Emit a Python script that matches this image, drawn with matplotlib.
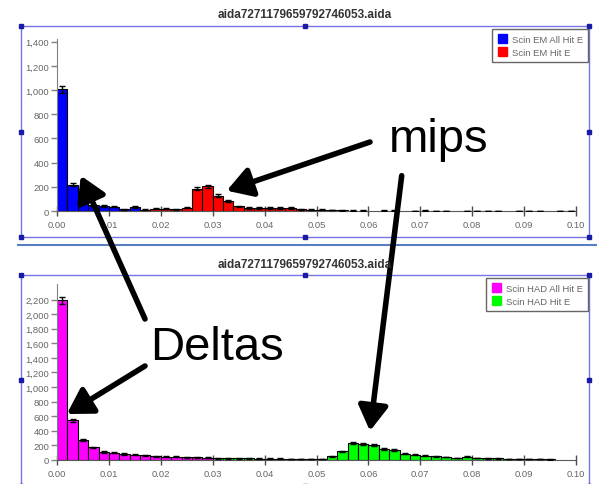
import numpy as np
import matplotlib.pyplot as plt
from matplotlib.patches import Rectangle, Patch
from matplotlib.lines import Line2D
from matplotlib.ticker import FuncFormatter, MultipleLocator, FixedLocator

plt.rcParams['font.family'] = ['Liberation Sans', 'DejaVu Sans']

W, H = 597, 485
TITLE = 'aida7271179659792746053.aida'

# 50 bins of width 0.002 between 0 and 0.1
edges = np.linspace(0.0, 0.1, 51)
centers = 0.5 * (edges[:-1] + edges[1:])

em_all_hit = [1005, 218, 106, 46, 40, 35, 15, 32, 0, 0,
              0, 0, 0, 0, 0, 0, 0, 0, 0, 0,
              0, 0, 0, 0, 0, 0, 0, 0, 0, 0,
              0, 0, 0, 0, 0, 0, 0, 0, 0, 0,
              0, 0, 0, 0, 0, 0, 0, 0, 0, 0]
em_hit = [0, 0, 0, 0, 0, 0, 0, 0, 12, 18,
          20, 15, 28, 186, 203, 127, 85, 38, 25, 25,
          25, 25, 25, 15, 12, 10, 8, 5, 3, 3,
          0, 3, 3, 0, 2, 4, 2, 2, 0, 2,
          2, 2, 2, 0, 2, 2, 2, 0, 2, 2]
had_all_hit = [2190, 540, 272, 168, 105, 95, 80, 68, 58, 50,
               42, 38, 35, 32, 30, 0, 0, 0, 0, 0,
               0, 0, 0, 0, 0, 0, 0, 0, 0, 0,
               0, 0, 0, 0, 0, 0, 0, 0, 0, 0,
               0, 0, 0, 0, 0, 0, 0, 0, 0, 0]
had_hit = [0, 0, 0, 0, 0, 0, 0, 0, 0, 0,
           0, 0, 0, 0, 0, 20, 18, 18, 18, 15,
           15, 15, 8, 5, 12, 12, 45, 115, 225, 220,
           200, 150, 130, 85, 70, 55, 45, 37, 25, 40,
           25, 20, 20, 10, 5, 5, 5, 3, 0, 0]

em_ticks = list(range(0, 1401, 200))
had_ticks = list(range(0, 2201, 200))


def fx(x):
    return x / W


def fy(y):
    return 1 - y / H


def draw_hist(ax, vals, color):
    vals = np.asarray(vals, dtype=float)
    m = vals > 0
    ax.bar(edges[:-1][m], vals[m], width=0.002, align='edge', color=color,
           edgecolor='black', linewidth=0.8, zorder=2)
    ax.errorbar(centers[m], vals[m], yerr=np.sqrt(vals[m]), fmt='none',
                ecolor='black', elinewidth=1, capsize=2, capthick=1, zorder=3)


def style_axes(ax, ymax, yticks):
    ax.set_facecolor('none')
    ax.set_xlim(0, 0.1)
    ax.set_ylim(0, ymax)
    for s in ('top', 'right'):
        ax.spines[s].set_visible(False)
    ax.spines['left'].set_color('0.5')
    ax.spines['bottom'].set_color('0.35')
    ax.xaxis.set_major_locator(MultipleLocator(0.01))
    ax.xaxis.set_major_formatter(FuncFormatter(lambda v, p: f'{v:.2f}'))
    ax.yaxis.set_major_locator(FixedLocator(yticks))
    ax.yaxis.set_major_formatter(FuncFormatter(lambda v, p: f'{v:,.0f}'))
    ax.tick_params(axis='x', direction='inout', length=7, width=1, color='0.3',
                   labelsize=6.8, labelcolor='0.4', pad=3)
    ax.tick_params(axis='y', direction='out', length=4, width=1, color='0.5',
                   labelsize=6.8, labelcolor='0.4', pad=1.5)


def add_legend(ax, labels, colors, right, top):
    handles = [Patch(facecolor=c, edgecolor=c) for c in colors]
    ax.legend(handles, labels, loc='upper right',
              bbox_to_anchor=(fx(right), fy(top)), bbox_transform=fig.transFigure,
              fontsize=6.8, frameon=True, fancybox=False, edgecolor='0.4',
              framealpha=1, borderpad=0.55, handlelength=1.0, handleheight=1.0,
              handletextpad=0.5, labelspacing=0.4, labelcolor='0.4', borderaxespad=0)


def add_frame(top, bottom, left=21, right=588.5):
    fig.add_artist(Rectangle((fx(left), fy(bottom)), fx(right) - fx(left), fy(top) - fy(bottom),
                             transform=fig.transFigure, fill=False, edgecolor='#7474e6',
                             lw=1, zorder=-1))
    mx, my = (left + right) / 2, (top + bottom) / 2
    xs = [left, mx, right, left, right, left, mx, right]
    ys = [top, top, top, my, my, bottom, bottom, bottom]
    fig.add_artist(Line2D([fx(x) for x in xs], [fy(y) for y in ys],
                          transform=fig.transFigure, ls='none', marker='s', ms=2.5,
                          color='#1a1aa8', zorder=-1))


fig = plt.figure(figsize=(W / 100, H / 100), dpi=100)

# upper panel: EM scintillator
ax1 = fig.add_axes([fx(57), fy(212), fx(576) - fx(57), fy(40.3) - fy(212)])
draw_hist(ax1, em_all_hit, '#0000ff')
draw_hist(ax1, em_hit, '#ff0000')
style_axes(ax1, 1420, em_ticks)
add_legend(ax1, ['Scin EM All Hit E', 'Scin EM Hit E'], ['#0000ff', '#ff0000'], 588, 30)

# lower panel: HAD scintillator
ax2 = fig.add_axes([fx(57), fy(460.7), fx(576) - fx(57), fy(284.7) - fy(460.7)])
draw_hist(ax2, had_all_hit, '#ff00ff')
draw_hist(ax2, had_hit, '#00ff00')
style_axes(ax2, 2420, had_ticks)
add_legend(ax2, ['Scin HAD All Hit E', 'Scin HAD Hit E'], ['#ff00ff', '#00ff00'], 588, 279)

add_frame(27, 238)
add_frame(275.7, 486.5)
fig.add_artist(Line2D([fx(18), 1], [fy(245.7), fy(245.7)], transform=fig.transFigure,
                      color='#5a7fc0', lw=1.5, zorder=-1))

fig.text(fx(305), fy(15), TITLE, ha='center', va='center', fontsize=8.5,
         fontweight='bold', color='#333333')
fig.text(fx(305), fy(265), TITLE, ha='center', va='center', fontsize=8.5,
         fontweight='bold', color='#333333')

fig.text(fx(439), fy(151.7), 'mips', ha='center', va='baseline', fontsize=34)
fig.text(fx(217), fy(360), 'Deltas', ha='center', va='baseline', fontsize=34)

arrow = dict(arrowstyle='-|>,head_length=0.75,head_width=0.45', mutation_scale=20,
             lw=4, color='black', shrinkA=0, shrinkB=0)
ax1.annotate('', xy=(0.0327, 168), xytext=(fx(370), fy(143)),
             textcoords='figure fraction', arrowprops=arrow, annotation_clip=False)
ax1.annotate('', xy=(0.0046, 292), xytext=(fx(145), fy(320)),
             textcoords='figure fraction', arrowprops=arrow, annotation_clip=False)
ax2.annotate('', xy=(0.0603, 395), xytext=(fx(401.7), fy(176.7)),
             textcoords='figure fraction', arrowprops=arrow, annotation_clip=False)
ax2.annotate('', xy=(0.0019, 628), xytext=(fx(145), fy(367)),
             textcoords='figure fraction', arrowprops=arrow, annotation_clip=False)

fig.savefig('out.png', dpi=100)
